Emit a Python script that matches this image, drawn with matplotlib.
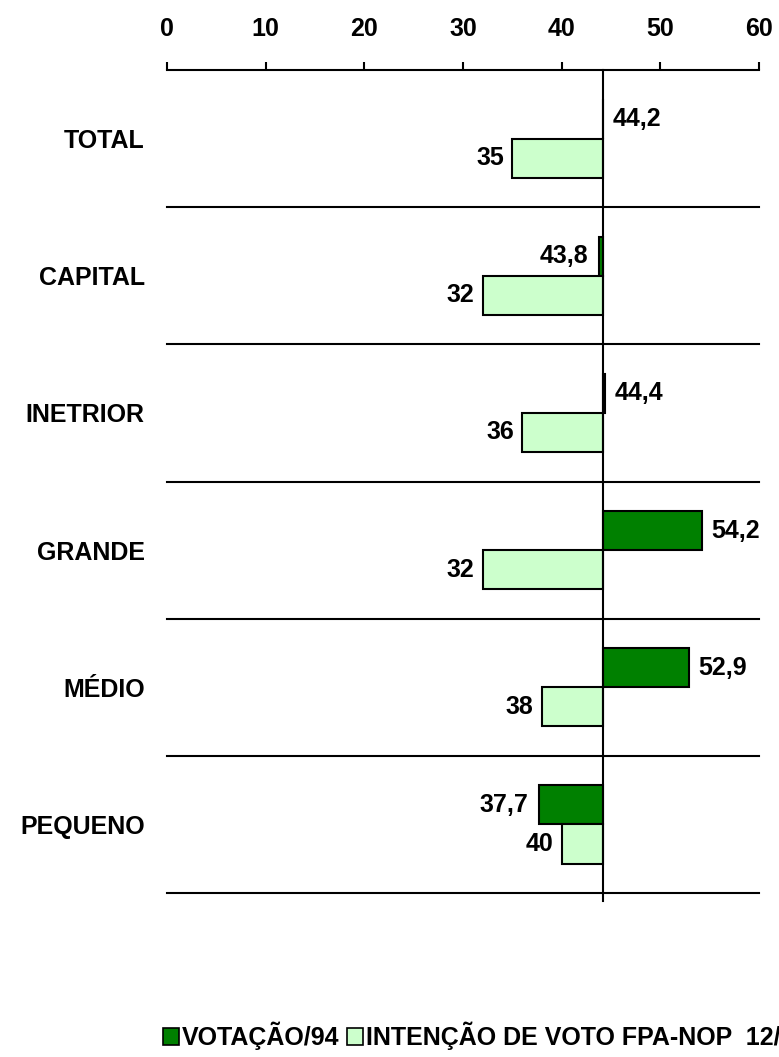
import matplotlib
matplotlib.use("Agg")
import matplotlib.pyplot as plt
from matplotlib.patches import Patch

categories = ["TOTAL", "CAPITAL", "INETRIOR", "GRANDE", "MÉDIO", "PEQUENO"]
votacao94 = [44.2, 43.8, 44.4, 54.2, 52.9, 37.7]
intencao = [35, 32, 36, 32, 38, 40]
baseline = 44.2
xticks = [0, 10, 20, 30, 40, 50, 60]
series_names = ["VOTAÇÃO/94", "INTENÇÃO DE VOTO FPA-NOP  12/97"]

plt.rcParams['font.family'] = ['Liberation Sans', 'DejaVu Sans']
plt.rcParams['font.weight'] = 'bold'
FS = 18

fig = plt.figure(figsize=(7.79, 10.57), dpi=100)
ax = fig.add_axes([167/779, 1 - 893/1057, (759-167)/779, (893-70)/1057])

dark = "#008000"
light = "#CCFFCC"
h = 0.285
n = len(categories)
centers = [i + 0.5 for i in range(n)]
yg = [c - h/2 for c in centers]
yl = [c + h/2 for c in centers]

ax.barh(yg, [v - baseline for v in votacao94], left=baseline, height=h,
        color=dark, edgecolor="black", linewidth=1.5, zorder=3)
ax.barh(yl, [v - baseline for v in intencao], left=baseline, height=h,
        color=light, edgecolor="black", linewidth=1.5, zorder=3)

def fmt(v):
    s = f"{v:g}"
    return s.replace(".", ",")

for y, v in zip(yg, votacao94):
    if v < baseline:
        ax.annotate(fmt(v), (v, y), xytext=(-8, 0), textcoords="offset points",
                    ha="right", va="center", fontsize=FS, fontweight="bold")
    else:
        ax.annotate(fmt(v), (v, y), xytext=(7, 0), textcoords="offset points",
                    ha="left", va="center", fontsize=FS, fontweight="bold")
for y, v in zip(yl, intencao):
    ax.annotate(fmt(v), (v, y), xytext=(-6, 0), textcoords="offset points",
                ha="right", va="center", fontsize=FS, fontweight="bold")

# separators
for b in range(1, n + 1):
    ax.axhline(b, color="black", linewidth=1.5, zorder=2, clip_on=False)
ax.axvline(baseline, color="black", linewidth=1.5, zorder=4, ymin=-0.01, ymax=1, clip_on=False)

ax.set_xlim(0, 60)
ax.set_ylim(n, 0)
ax.xaxis.tick_top()
ax.set_xticks(xticks)
ax.set_xticklabels([str(t) for t in xticks], fontsize=FS, fontweight="bold")
ax.tick_params(axis="x", direction="out", length=6, width=1.5, pad=15)
ax.set_yticks(centers)
ax.set_yticklabels(categories, fontsize=FS, fontweight="bold")
ax.tick_params(axis="y", length=0, pad=16)
for s in ["bottom", "left", "right"]:
    ax.spines[s].set_visible(False)
ax.spines["top"].set_linewidth(1.5)

handles = [Patch(facecolor=dark, edgecolor="black", linewidth=1.2),
           Patch(facecolor=light, edgecolor="black", linewidth=1.2)]
fig.legend(handles, series_names, loc="lower left", bbox_to_anchor=(148/779, -0.008),
           ncol=2, frameon=False, handlelength=0.65, handleheight=0.65,
           handletextpad=0.1, columnspacing=0.3, borderaxespad=0.2,
           prop={'weight': 'bold', 'size': FS})

fig.savefig("out.png", dpi=100)
